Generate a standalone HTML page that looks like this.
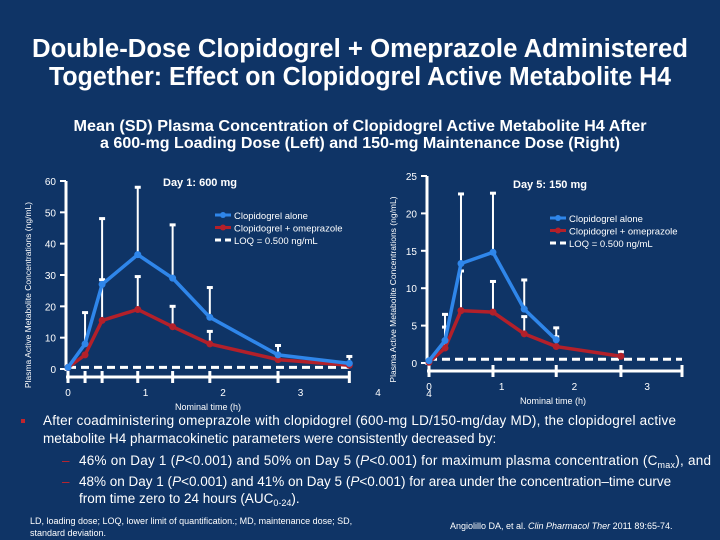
<!DOCTYPE html>
<html><head><meta charset="utf-8"><style>
html,body{margin:0;padding:0;background:#0f3466;}
svg{display:block;font-family:"Liberation Sans",Arial,sans-serif;}
</style></head><body>
<svg id="s" width="720" height="540" viewBox="0 0 720 540" xmlns="http://www.w3.org/2000/svg">
<rect width="720" height="540" fill="#0f3466"/>
<g fill="#fff" font-weight="bold" text-anchor="middle">
<text x="360" y="57" font-size="25.5" textLength="656" lengthAdjust="spacingAndGlyphs">Double-Dose Clopidogrel + Omeprazole Administered</text>
<text x="360" y="85" font-size="25.5" textLength="622" lengthAdjust="spacingAndGlyphs">Together: Effect on Clopidogrel Active Metabolite H4</text>
<text x="360" y="131" font-size="15.5" textLength="573" lengthAdjust="spacingAndGlyphs">Mean (SD) Plasma Concentration of Clopidogrel Active Metabolite H4 After</text>
<text x="360" y="148" font-size="15.5" textLength="520" lengthAdjust="spacingAndGlyphs">a 600-mg Loading Dose (Left) and 150-mg Maintenance Dose (Right)</text>
</g>
<g id="L"></g>
<g id="R"></g>
<g fill="#fff" font-size="13.5">
<rect x="21" y="419" width="4" height="4" fill="#c0242c"/>
<text x="43" y="425" textLength="633">After coadministering omeprazole with clopidogrel (600-mg LD/150-mg/day MD), the clopidogrel active</text>
<text x="43" y="443">metabolite H4 pharmacokinetic parameters were consistently decreased by:</text>
<text x="62" y="465" fill="#c0242c">–</text>
<text x="79" y="465" textLength="632">46% on Day 1 (<tspan font-style="italic">P</tspan>&lt;0.001) and 50% on Day 5 (<tspan font-style="italic">P</tspan>&lt;0.001) for maximum plasma concentration (C<tspan font-size="9" dy="3">max</tspan><tspan dy="-3">), and</tspan></text>
<text x="62" y="486" fill="#c0242c">–</text>
<text x="79" y="486">48% on Day 1 (<tspan font-style="italic">P</tspan>&lt;0.001) and 41% on Day 5 (<tspan font-style="italic">P</tspan>&lt;0.001) for area under the concentration–time curve</text>
<text x="79" y="503">from time zero to 24 hours (AUC<tspan font-size="9" dy="3">0-24</tspan><tspan dy="-3">).</tspan></text>
</g>
<g fill="#fff" font-size="9">
<text x="30" y="524">LD, loading dose; LOQ, lower limit of quantification.; MD, maintenance dose; SD,</text>
<text x="30" y="536">standard deviation.</text>
<text x="450" y="529">Angiolillo DA, et al. <tspan font-style="italic">Clin Pharmacol Ther</tspan> 2011 89:65-74.</text>
</g>
</svg>
<script>
const leftTimes=[0,0.22,0.44,0.9,1.35,1.83,2.71,3.63];
const leftAlone=[0.5,8,27,36.5,29,16.5,4.5,1.8];
const leftAloneSD=[0,10,21,21.5,17,9.5,3,2.2];
const leftOme=[0.5,4.5,15.5,19,13.5,8,3,1.2];
const leftOmeSD=[0,0,13,10.5,6.5,4,0,0];
const leftYTicks=[0,10,20,30,40,50,60];
const leftXLabels=[0,1,2,3,4];
const rightTimes=[0,0.22,0.44,0.88,1.31,1.75,2.64];
const rightAlone=[0.3,3,13.3,14.8,7.2,3.1];
const rightAloneSD=[0,3.5,9.3,7.9,3.9,1.6];
const rightOme=[0.1,2,7,6.8,3.9,2.2,0.9];
const rightOmeSD=[0,2.8,5.3,4.1,2.3,1.3,0.6];
const rightYTicks=[0,5,10,15,20,25];
const rightXLabels=[0,1,2,3];
const LOQ=0.5;
const NS='http://www.w3.org/2000/svg';
function mk(p,tag,at){const e=document.createElementNS(NS,tag);for(const k in at)e.setAttribute(k,at[k]);p.appendChild(e);return e;}
function chart(g,o){
  const x=t=>o.x0+t*o.xs, y=v=>o.y0-(v/o.yMax)*(o.y0-o.yTop);
  let a=mk(g,'line',{x1:o.x0-2,y1:y(o.yMax),x2:o.x0-2,y2:o.y0+2,stroke:'#fff','stroke-width':3});
  
  o.yt.forEach(v=>{
    let t=mk(g,'line',{x1:o.x0-8,x2:o.x0-2,y1:y(v),y2:y(v),stroke:'#fff','stroke-width':2});
    
    let l=mk(g,'text',{x:o.x0-12,y:y(v)+4,fill:'#fff','font-size':10,'text-anchor':'end'});l.textContent=v;
    
  });
  let xa=mk(g,'line',{x1:o.x0-2,x2:x(o.xEnd),y1:o.y0+8,y2:o.y0+8,stroke:'#fff','stroke-width':3});
  
  o.tickT.forEach(t=>{
    let k=mk(g,'line',{x1:x(t),x2:x(t),y1:o.y0+2,y2:o.y0+14,stroke:'#fff','stroke-width':3});
    
  });
  o.xl.forEach(v=>{
    let l=mk(g,'text',{x:x(v),y:o.y0+27,fill:'#fff','font-size':10,'text-anchor':'middle'});l.textContent=v;
    
  });
  let q=mk(g,'line',{x1:o.x0,x2:x(o.xEnd),y1:y(LOQ),y2:y(LOQ),stroke:'#fff','stroke-width':3,'stroke-dasharray':'8,5'});
  
  [[o.om,o.omSD,'omeprazole'],[o.al,o.alSD,'alone']].forEach(([d,sd,n])=>{
    d.forEach((v,i)=>{if(sd[i]>0){
      let e=mk(g,'line',{x1:x(o.t[i]),x2:x(o.t[i]),y1:y(v),y2:y(v+sd[i]),stroke:'#fff','stroke-width':2});
      
      let c2=mk(g,'line',{x1:x(o.t[i])-3,x2:x(o.t[i])+3,y1:y(v+sd[i]),y2:y(v+sd[i]),stroke:'#fff','stroke-width':3});
      
    }});
  });
  [[o.om,'#b3202a','omeprazole'],[o.al,'#2f86ea','alone']].forEach(([d,c,n])=>{
    let p=mk(g,'polyline',{points:d.map((v,i)=>x(o.t[i])+','+y(v)).join(' '),fill:'none',stroke:c,'stroke-width':3.5});
    
    d.forEach((v,i)=>{let m=mk(g,'circle',{cx:x(o.t[i]),cy:y(v),r:3.5,fill:c});
      });
  });
  let tt=mk(g,'text',{x:o.titleX,y:o.titleY,fill:'#fff','font-size':11,'font-weight':'bold','text-anchor':'middle'});tt.textContent=o.title;
  
  const lx=o.legX, ly=o.legY;
  [['Clopidogrel alone','#2f86ea',0],['Clopidogrel + omeprazole','#b3202a',0],['LOQ = 0.500 ng/mL','#fff',1]].forEach(([s,c,d],i)=>{
    let yy=ly+i*12.5;
    let ln=mk(g,'line',{x1:lx,x2:lx+16,y1:yy-4,y2:yy-4,stroke:c,'stroke-width':3,'stroke-dasharray':d?'6,4':'none'});
    
    if(!d){let cc=mk(g,'circle',{cx:lx+8,cy:yy-4,r:3,fill:c});}
    let t=mk(g,'text',{x:lx+19,y:yy,fill:'#fff','font-size':9.5});t.textContent=s;
    
  });
  let yl=mk(g,'text',{transform:`translate(${o.ylX},${(o.yTop+o.y0)/2+20}) rotate(-90)`,fill:'#fff','font-size':8.5,'text-anchor':'middle'});
  yl.textContent='Plasma Active Metabolite Concentrations (ng/mL)';
  
  let xl=mk(g,'text',{x:o.xlX,y:o.y0+41,fill:'#fff','font-size':9,'text-anchor':'middle'});xl.textContent='Nominal time (h)';
  
}
chart(document.getElementById('L'),{x0:68,xs:77.5,y0:369,yTop:181,yMax:60,t:leftTimes,al:leftAlone,alSD:leftAloneSD,om:leftOme,omSD:leftOmeSD,
  yt:leftYTicks,xl:leftXLabels,tickT:leftTimes,xEnd:3.63,title:'Day 1: 600 mg',titleX:200,titleY:186,legX:215,legY:219,ylX:31,xlX:208});
chart(document.getElementById('R'),{x0:429,xs:72.7,y0:363,yTop:176,yMax:25,t:rightTimes,al:rightAlone,alSD:rightAloneSD,om:rightOme,omSD:rightOmeSD,
  yt:rightYTicks,xl:rightXLabels,tickT:[0,0.88,1.75,2.64,3.48],xEnd:3.48,title:'Day 5:  150 mg',titleX:550,titleY:188,legX:550,legY:222,ylX:396,xlX:553});
const f=document.createElementNS(NS,'text');
f.setAttribute('x',429);f.setAttribute('y',397);f.setAttribute('fill','#fff');f.setAttribute('font-size',10);f.setAttribute('text-anchor','middle');f.textContent='4';


document.getElementById('R').appendChild(f);
</script>
</body></html>
